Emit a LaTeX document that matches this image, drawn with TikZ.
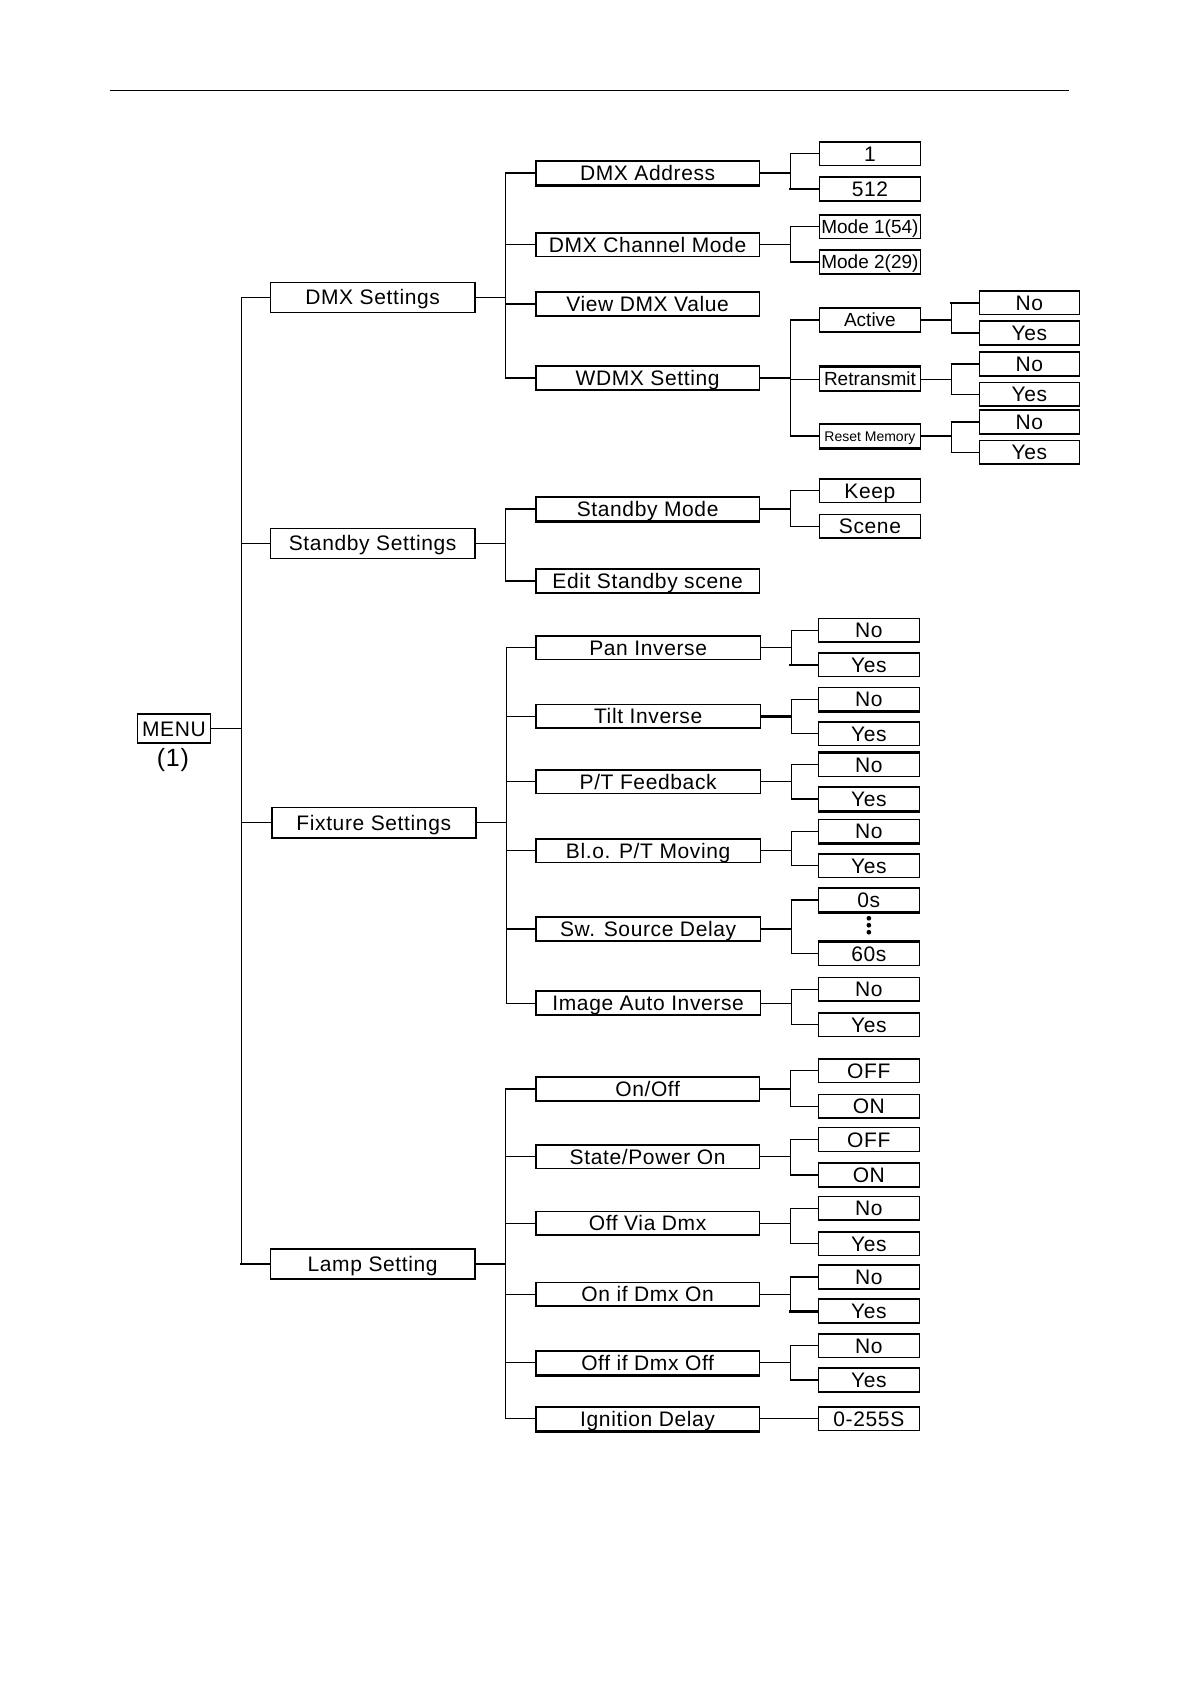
\documentclass[tikz,border=0pt]{standalone}
\usepackage{fontspec}
\setmainfont{Liberation Sans}[LetterSpace=3]
\newfontfamily\tightf{Liberation Sans}
\newcommand\mybox[7][]{\node[bx,#1,minimum width={(#5-#3)*0.53696pt},minimum height={(#6-#4)*0.53696pt}] (#2) at ({(#3+#5)/2},{(#4+#6)/2}) {#7};}
\newcommand\fork[2]{\draw[ln] (#1.east) -- ++(28,0) |- (#2.west);}
\newcommand\hbot[1]{\draw[hv] (#1.south west) -- (#1.south east);}
\newcommand\htop[1]{\draw[hv] (#1.north west) -- (#1.north east);}
\begin{document}
\begin{tikzpicture}[x=0.53696pt,y=-0.53696pt,
  bx/.style={draw,line width=0.8pt,inner sep=0pt,text height=7.5pt,text depth=0pt,font=\fontsize{10.5}{12}\selectfont},
  sm/.style={text height=6.8pt,font=\tightf\fontsize{9.5}{11}\selectfont},
  xs/.style={text height=5pt,font=\tightf\fontsize{7}{8}\selectfont},
  ln/.style={line width=0.6pt},
  hv/.style={line width=1.2pt}]
\useasboundingbox (0,0) rectangle (1109,1568);
\draw[line width=0.6pt] (102,84) -- (995,84);
% level 0/1
\mybox{menu}{128}{665}{196}{692}{MENU}
\node[font=\fontsize{12.5}{14}\selectfont] (one) at (161,708) {(1)};
\mybox{dmx}{252}{263}{442}{291}{DMX Settings}
\mybox{stb}{252}{492}{442}{520}{Standby Settings}
\mybox{fix}{253}{752}{443}{780}{Fixture Settings}
\mybox{lamp}{252}{1163}{442}{1191}{Lamp Setting}
% DMX
\mybox{addr}{499}{150}{707}{172}{DMX Address}
\mybox{chm}{499}{217}{707}{239}{DMX Channel Mode}
\mybox{view}{499}{272}{707}{294}{View DMX Value}
\mybox{wdmx}{499}{341}{707}{363}{WDMX Setting}
\mybox{vone}{763}{132}{857}{154}{1}
\mybox{vmax}{763}{165}{857}{187}{512}
\mybox[sm]{mone}{763}{200}{857}{222}{Mode 1(54)}
\mybox[sm]{mtwo}{763}{233}{857}{255}{Mode 2(29)}
\mybox[sm]{active}{763}{287}{857}{309}{Active}
\mybox[sm]{retr}{763}{342}{857}{364}{Retransmit}
\mybox[xs]{reset}{763}{395}{857}{417}{Reset Memory}
\mybox{an}{912}{271}{1005}{293}{No}
\mybox{ay}{912}{299}{1005}{321}{Yes}
\mybox{rn}{912}{328}{1005}{350}{No}
\mybox{ry}{912}{356}{1005}{378}{Yes}
\mybox{mn}{912}{382}{1005}{404}{No}
\mybox{my}{912}{410}{1005}{432}{Yes}
% Standby
\mybox{smode}{499}{463}{707}{485}{Standby Mode}
\mybox{edit}{499}{530}{707}{552}{Edit Standby scene}
\mybox{keep}{763}{446}{857}{468}{Keep}
\mybox{scene}{763}{479}{857}{501}{Scene}
% Fixture
\mybox{pan}{499}{592}{708}{614}{Pan Inverse}
\mybox{tilt}{499}{656}{708}{678}{Tilt Inverse}
\mybox{ptf}{499}{717}{708}{739}{P/T Feedback}
\mybox{blo}{499}{781}{708}{803}{Bl.o. P/T Moving}
\mybox{sw}{499}{854}{708}{876}{Sw. Source Delay}
\mybox{img}{499}{923}{708}{945}{Image Auto Inverse}
\mybox{panN}{762}{576}{856}{598}{No}
\mybox{panY}{762}{608}{856}{630}{Yes}
\mybox{tiltN}{762}{640}{856}{662}{No}
\mybox{tiltY}{762}{672}{856}{694}{Yes}
\mybox{ptfN}{762}{701}{856}{723}{No}
\mybox{ptfY}{762}{733}{856}{755}{Yes}
\mybox{bloN}{762}{763}{856}{785}{No}
\mybox{bloY}{762}{795}{856}{817}{Yes}
\mybox{szero}{762}{827}{856}{849}{0s}
\mybox{ssixty}{762}{877}{856}{899}{60s}
\mybox{imgN}{762}{910}{856}{932}{No}
\mybox{imgY}{762}{943}{856}{965}{Yes}
\fill (809,855) circle (2.2) (809,861.5) circle (2.2) (809,868) circle (2.2);
% Lamp
\mybox{onoff}{499}{1003}{707}{1025}{On/Off}
\mybox{state}{499}{1066}{707}{1088}{State/Power On}
\mybox{via}{499}{1128}{707}{1150}{Off Via Dmx}
\mybox{onif}{499}{1194}{707}{1216}{On if Dmx On}
\mybox{offif}{499}{1258}{707}{1280}{Off if Dmx Off}
\mybox{ign}{499}{1310}{707}{1332}{Ignition Delay}
\mybox{ooOff}{762}{986}{856}{1008}{OFF}
\mybox{ooOn}{762}{1019}{856}{1041}{ON}
\mybox{stOff}{762}{1050}{856}{1072}{OFF}
\mybox{stOn}{762}{1083}{856}{1105}{ON}
\mybox{viaN}{762}{1114}{856}{1136}{No}
\mybox{viaY}{762}{1147}{856}{1169}{Yes}
\mybox{onN}{762}{1178}{856}{1200}{No}
\mybox{onY}{762}{1210}{856}{1232}{Yes}
\mybox{offN}{762}{1242}{856}{1264}{No}
\mybox{offY}{762}{1274}{856}{1296}{Yes}
\mybox{ignv}{762}{1310}{856}{1332}{0-255S}
% connectors
\foreach \c in {dmx,stb,fix,lamp} {\fork{menu}{\c}}
\foreach \c in {addr,chm,view,wdmx} {\fork{dmx}{\c}}
\foreach \c in {vone,vmax} {\fork{addr}{\c}}
\foreach \c in {mone,mtwo} {\fork{chm}{\c}}
\foreach \c in {active,retr,reset} {\fork{wdmx}{\c}}
\foreach \c in {an,ay} {\fork{active}{\c}}
\foreach \c in {rn,ry} {\fork{retr}{\c}}
\foreach \c in {mn,my} {\fork{reset}{\c}}
\foreach \c in {smode,edit} {\fork{stb}{\c}}
\foreach \c in {keep,scene} {\fork{smode}{\c}}
\foreach \c in {pan,tilt,ptf,blo,sw,img} {\fork{fix}{\c}}
\foreach \c in {panN,panY} {\fork{pan}{\c}}
\foreach \c in {tiltN,tiltY} {\fork{tilt}{\c}}
\foreach \c in {ptfN,ptfY} {\fork{ptf}{\c}}
\foreach \c in {bloN,bloY} {\fork{blo}{\c}}
\foreach \c in {szero,ssixty} {\fork{sw}{\c}}
\foreach \c in {imgN,imgY} {\fork{img}{\c}}
\foreach \c in {onoff,state,via,onif,offif,ign} {\fork{lamp}{\c}}
\foreach \c in {ooOff,ooOn} {\fork{onoff}{\c}}
\foreach \c in {stOff,stOn} {\fork{state}{\c}}
\foreach \c in {viaN,viaY} {\fork{via}{\c}}
\foreach \c in {onN,onY} {\fork{onif}{\c}}
\foreach \c in {offN,offY} {\fork{offif}{\c}}
\draw[ln] (ign) -- (ignv);
% heavier scanned strokes
\draw[hv] (addr.east) -- ++(28,0);
\draw[hv] (vmax.west) -- ++(-28,0);
\draw[hv] (tilt.east) -- ++(28,0);
\draw[hv] (lamp.east) -- ++(28,0);
\draw[hv] (lamp.west) -- ++(-28,0);
\draw[hv] (an.west) -- ++(-27,0);
\draw[hv] (panY.west) -- ++(-27,0);
\draw[hv] (onY.west) -- ++(-27,0);
\hbot{addr}\hbot{smode}\hbot{reset}\hbot{tiltN}\hbot{offif}\hbot{ign}\hbot{szero}\hbot{ptfY}\hbot{bloN}
\htop{retr}\htop{ssixty}\htop{ptfN}\htop{onY}
\end{tikzpicture}
\end{document}
